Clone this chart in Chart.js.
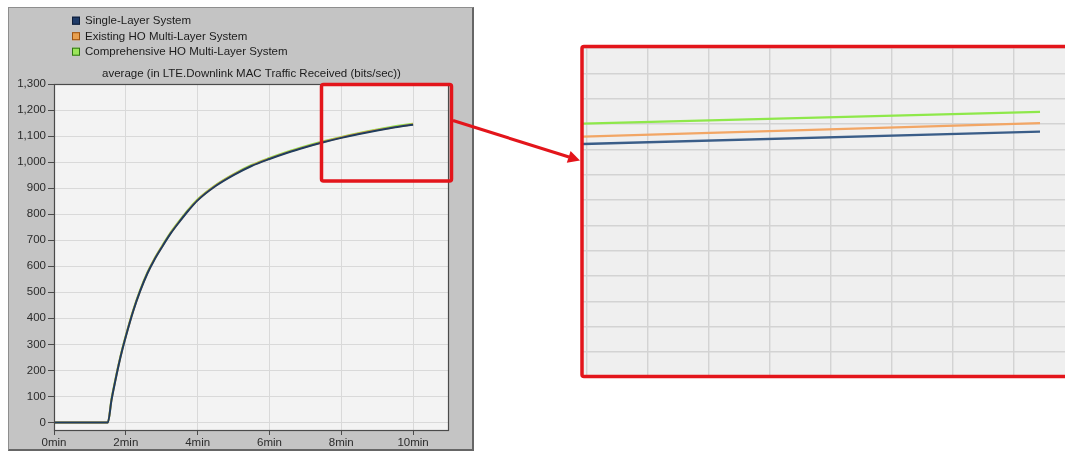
<!DOCTYPE html>
<html>
<head>
<meta charset="utf-8">
<script src="https://cdn.jsdelivr.net/npm/chart.js@4.4.1/dist/chart.umd.min.js"></script>
<style>
  html, body { margin: 0; padding: 0; background: #ffffff; width: 1065px; height: 455px; overflow: hidden; position: relative; }
  #panel { position: absolute; left: 8px; top: 7px; width: 463px; height: 441px; background: #c4c4c4;
           border-left: 1px solid #8e8e8e; border-top: 1px solid #8e8e8e; border-right: 2px solid #666; border-bottom: 2px solid #666; }
  #mainChart { position: absolute; left: 8px; top: 7px; }
  #zoomChart { position: absolute; left: 583px; top: 48px; }
  #marks { position: absolute; left: 0; top: 0; pointer-events: none; }
</style>
</head>
<body>
<div id="panel"></div>
<canvas id="mainChart" width="465" height="443"></canvas>
<canvas id="zoomChart" width="520" height="328"></canvas>
<svg id="marks" width="1065" height="455" viewBox="0 0 1065 455">
  <rect x="321.5" y="84.5" width="130" height="96.5" rx="2" fill="none" stroke="#e3151b" stroke-width="3.5"/>
  <rect x="582" y="46.5" width="620" height="330" rx="2" fill="none" stroke="#e3151b" stroke-width="3.5"/>
  <line x1="453" y1="120.5" x2="569" y2="157" stroke="#e3151b" stroke-width="3.2"/>
  <polygon points="580,160.5 566.8,162.8 570.6,151.0" fill="#e3151b"/>
</svg>
<script>
// Simulation time (minutes) and the averaged downlink MAC traffic per system (bits/sec)
const minutes = [0, 0.5, 1.0, 1.5, 1.6, 1.7, 1.8, 1.9, 2.0, 2.2, 2.4, 2.6, 2.8, 3.0, 3.25, 3.5, 3.75, 4.0,
                 4.5, 5.0, 5.5, 6.0, 6.5, 7.0, 7.5, 8.0, 8.5, 9.0, 9.5, 10.0];
const singleLayer = [0, 0, 0, 0, 85, 155, 220, 278, 330, 425, 505, 572, 626, 672, 726, 772, 815, 853,
                     908, 950, 985, 1012, 1036, 1057, 1076, 1093, 1108, 1121.5, 1133.5, 1143.5];
const existingHO = [0, 0, 0, 0, 86, 156, 221.5, 279.5, 331.5, 426.5, 506.5, 573.5, 627.5, 673.5, 727.5, 773.5, 816.5, 854.5,
                    909.5, 951.5, 986.5, 1013.5, 1037.5, 1058.5, 1077.5, 1094.5, 1109.5, 1123, 1134.4, 1145.2];
const comprehensiveHO = [0, 0, 0, 0, 89, 159, 224, 282, 334, 429, 509, 576, 630, 676, 730, 776, 819, 857,
                         912, 954, 989, 1016, 1040, 1061, 1080, 1097, 1112, 1125.5, 1137.8, 1147.4];

const seriesNames = ['Single-Layer System', 'Existing HO Multi-Layer System', 'Comprehensive HO Multi-Layer System'];
const chartTitle = 'average (in LTE.Downlink MAC Traffic Received (bits/sec))';

// Axis ticks of the main graph
const xTickValues = [0, 2, 4, 6, 8, 10];
const yTickValues = [0, 100, 200, 300, 400, 500, 600, 700, 800, 900, 1000, 1100, 1200, 1300];

// Close-up grid: one line per second and per 5 bits/sec
const zoomXGridStart = 9.87623;
const zoomXGridStep = 1 / 60;
const zoomXGridCount = 9;
const zoomYTickValues = [1100, 1105, 1110, 1115, 1120, 1125, 1130, 1135, 1140, 1145, 1150, 1155, 1160];

const FONT = '"Liberation Sans", Arial, Helvetica, sans-serif';

function points(values) {
  return minutes.map((t, i) => ({ x: t, y: values[i] }));
}

function makeDatasets(widths, colours) {
  const values = [singleLayer, existingHO, comprehensiveHO];
  return values.map((v, i) => ({
    label: seriesNames[i],
    data: points(v),
    borderColor: colours[i],
    borderWidth: widths[i],
    pointRadius: 0,
    cubicInterpolationMode: 'monotone',
    fill: false
  }));
}

const plotBackground = {
  id: 'plotBackground',
  beforeDraw(chart, args, opts) {
    const a = chart.chartArea, ctx = chart.ctx;
    ctx.save();
    ctx.fillStyle = opts.color;
    ctx.fillRect(a.left, a.top, a.right - a.left, a.bottom - a.top);
    ctx.restore();
  }
};

const plotFrame = {
  id: 'plotFrame',
  afterDraw(chart) {
    const a = chart.chartArea, ctx = chart.ctx;
    ctx.save();
    ctx.strokeStyle = '#4a4a4a';
    ctx.lineWidth = 1.2;
    ctx.strokeRect(a.left + 0.5, a.top + 0.5, a.right - a.left - 1, a.bottom - a.top);
    ctx.restore();
  }
};

// Legend rows and the graph title, stacked above the plot
const swatches = [
  { fill: '#1f3b68', edge: '#0d1d38' },
  { fill: '#e8a050', edge: '#9a5212' },
  { fill: '#9be65a', edge: '#2f7414' }
];
const panelLegend = {
  id: 'panelLegend',
  afterDraw(chart) {
    const ctx = chart.ctx;
    ctx.save();
    ctx.font = '11.5px ' + FONT;
    ctx.textBaseline = 'middle';
    chart.data.datasets.forEach((ds, i) => {
      const cy = 13.7 + i * 15.5;
      ctx.fillStyle = swatches[i].fill;
      ctx.fillRect(64, cy - 4, 8, 8);
      ctx.strokeStyle = swatches[i].edge;
      ctx.lineWidth = 1;
      ctx.strokeRect(64.5, cy - 3.5, 7, 7);
      ctx.fillStyle = '#1c1c1c';
      ctx.textAlign = 'left';
      ctx.fillText(ds.label, 77, cy + 0.5);
    });
    ctx.textAlign = 'center';
    ctx.fillStyle = '#1c1c1c';
    ctx.fillText(chartTitle, (chart.chartArea.left + chart.chartArea.right) / 2, 66.5);
    ctx.restore();
  }
};

new Chart(document.getElementById('mainChart'), {
  type: 'line',
  data: { datasets: makeDatasets([2, 2, 2], ['#1f3d5e', '#e9974a', '#8ee34c']) },
  options: {
    responsive: false,
    devicePixelRatio: 1,
    animation: false,
    events: [],
    layout: { padding: { top: 77, right: 24, bottom: 0, left: 0 } },
    plugins: {
      legend: { display: false },
      title: { display: false },
      tooltip: { enabled: false },
      plotBackground: { color: '#f3f3f3' }
    },
    scales: {
      x: {
        type: 'linear', position: 'bottom', min: 0, max: 11,
        afterBuildTicks: s => { s.ticks = xTickValues.map(v => ({ value: v })); },
        afterFit: s => { s.height = 20; },
        border: { display: false },
        grid: { color: '#d9d9d9', lineWidth: 1, tickColor: '#4a4a4a', tickLength: 5, drawTicks: true },
        ticks: { padding: 1, color: '#2b2b2b', font: { family: FONT, size: 11.5 }, maxRotation: 0,
                 callback: v => v + 'min' }
      },
      y: {
        type: 'linear', position: 'left', min: -29, max: 1300,
        afterBuildTicks: s => { s.ticks = yTickValues.map(v => ({ value: v })); },
        afterFit: s => { s.width = 46; },
        border: { display: false },
        grid: { color: '#d9d9d9', lineWidth: 1, tickColor: '#4a4a4a', tickLength: 6, drawTicks: true },
        ticks: { padding: 2, color: '#2b2b2b', font: { family: FONT, size: 11.5 },
                 callback: v => v.toLocaleString('en-US') }
      }
    }
  },
  plugins: [plotBackground, plotFrame, panelLegend]
});

// Close-up of the last seconds of the run
new Chart(document.getElementById('zoomChart'), {
  type: 'line',
  data: { datasets: makeDatasets([2.4, 2.2, 2.4], ['#3a5d88', '#f2a665', '#8ee84a']) },
  options: {
    responsive: false,
    devicePixelRatio: 1,
    animation: false,
    events: [],
    layout: { padding: 0 },
    plugins: {
      legend: { display: false },
      title: { display: false },
      tooltip: { enabled: false },
      plotBackground: { color: '#efefef' }
    },
    scales: {
      x: {
        type: 'linear', min: 9.87514, max: 10.01721,
        afterBuildTicks: s => {
          const t = [];
          for (let k = 0; k < zoomXGridCount; k++) t.push({ value: zoomXGridStart + k * zoomXGridStep });
          s.ticks = t;
        },
        afterFit: s => { s.height = 0; },
        border: { display: false },
        grid: { color: '#d3d3d3', lineWidth: 1.4, drawTicks: false },
        ticks: { display: false }
      },
      y: {
        type: 'linear', min: 1095.3, max: 1160,
        afterBuildTicks: s => { s.ticks = zoomYTickValues.map(v => ({ value: v })); },
        afterFit: s => { s.width = 0; },
        border: { display: false },
        grid: { color: '#d3d3d3', lineWidth: 1.4, drawTicks: false },
        ticks: { display: false }
      }
    }
  },
  plugins: [plotBackground]
});
</script>
</body>
</html>
